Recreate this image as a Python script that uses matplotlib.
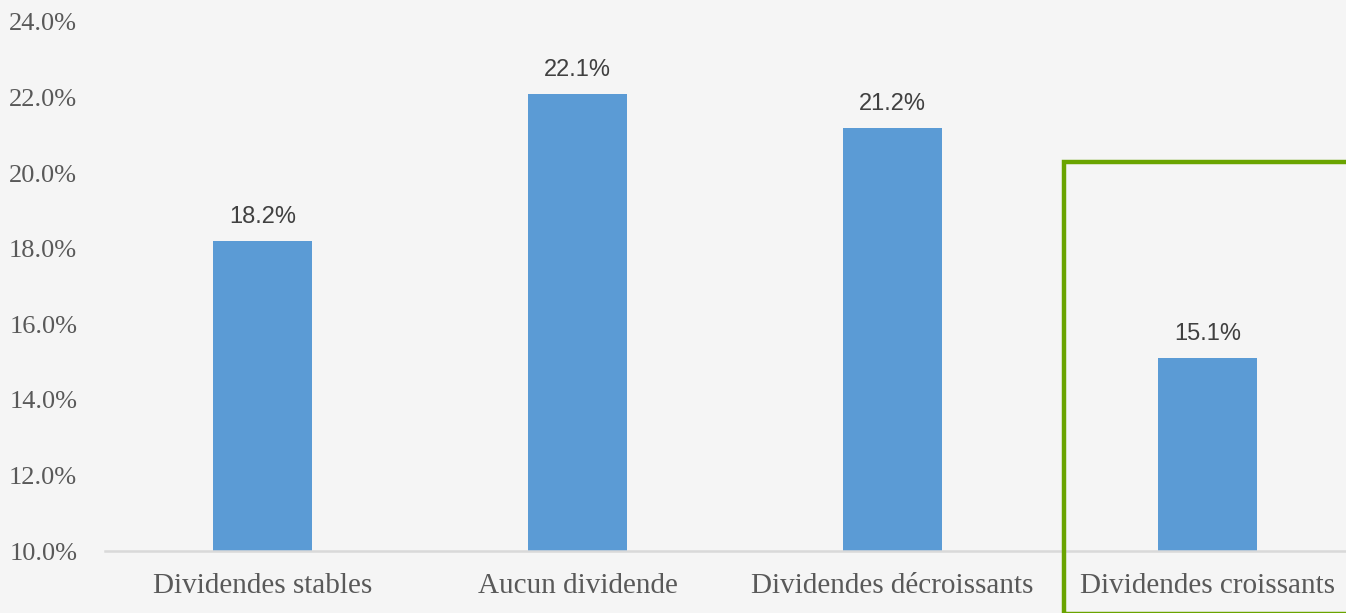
import matplotlib.pyplot as plt
from matplotlib.patches import Rectangle
from matplotlib.ticker import FuncFormatter

# données
categories = ["Dividendes stables", "Aucun dividende", "Dividendes décroissants", "Dividendes croissants"]
values = [18.2, 22.1, 21.2, 15.1]
y_ticks = [10, 12, 14, 16, 18, 20, 22, 24]

BG = "#f5f5f5"
BAR = "#5b9bd5"
GREEN = "#6aa400"

fig = plt.figure(figsize=(13.46, 6.13), dpi=100, facecolor=BG)
ax = fig.add_axes([105 / 1346, 62 / 613, 1260 / 1346, 529 / 613], facecolor=BG)

x = list(range(len(categories)))
bars = ax.bar(x, values, width=0.315, color=BAR, zorder=2)
ax.set_xlim(-0.5, len(categories) - 0.5)
ax.set_ylim(10, 24)
ax.set_yticks(y_ticks)
ax.yaxis.set_major_formatter(FuncFormatter(lambda v, _: f"{v:.1f}%"))

for b, v in zip(bars, values):
    ax.annotate(f"{v:.1f}%", (b.get_x() + b.get_width() / 2, v),
                xytext=(0, 24), textcoords="offset pixels", ha="center", va="center",
                fontsize=17, color="#404040", family="Liberation Sans")

ax.set_xticks(x)
ax.set_xticklabels(categories, fontsize=21, color="#595959", family="Liberation Serif")
for lab in ax.get_yticklabels():
    lab.set_fontsize(19)
    lab.set_color("#595959")
    lab.set_family("Liberation Serif")

ax.tick_params(axis="both", length=0)
ax.tick_params(axis="x", pad=16)
ax.tick_params(axis="y", pad=20)
for s in ["top", "right", "left"]:
    ax.spines[s].set_visible(False)
ax.spines["bottom"].set_color("#d9d9d9")
ax.spines["bottom"].set_linewidth(1.8)

# cadre vert autour de la dernière catégorie
fig.patches.append(Rectangle((1064 / 1346, -1 / 613), 0.3, (613 - 162 + 1) / 613,
                             transform=fig.transFigure, fill=False,
                             edgecolor=GREEN, linewidth=3.2, zorder=5))

fig.savefig("out.png", dpi=100, facecolor=BG)
